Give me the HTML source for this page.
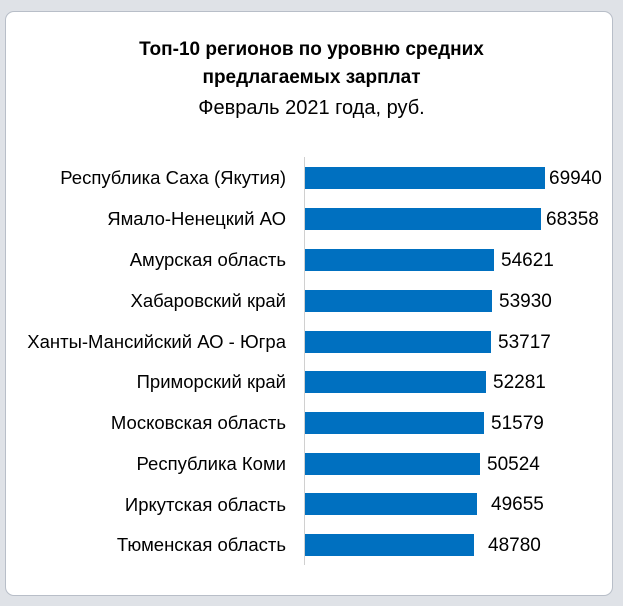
<!DOCTYPE html>
<html><head><meta charset="utf-8"><style>
body{margin:0;width:623px;height:606px;background:#dfe2e7;overflow:hidden;font-family:"Liberation Sans","DejaVu Sans",sans-serif;}
#p{position:absolute;left:5px;top:11px;width:606px;height:583px;background:#fff;border:1px solid #b8bec8;border-radius:9px;}
.t{position:absolute;left:0;width:623px;text-align:center;font-size:19px;color:#000;}
.l{position:absolute;right:337px;font-size:18.5px;white-space:nowrap;letter-spacing:0;}
.b{position:absolute;left:305px;height:22px;background:#0070c0;}
.v{position:absolute;font-size:19px;}
</style></head><body>
<div id="p"></div>
<div class="t" style="top:39px;font-weight:bold">Топ-10 регионов по уровню средних</div>
<div class="t" style="top:67px;font-weight:bold">предлагаемых зарплат</div>
<div class="t" style="top:97px;font-size:20px">Февраль 2021 года, руб.</div>
<div style="position:absolute;left:304px;top:157px;width:1px;height:408px;background:#d0d0d0"></div>
<div class="l" style="top:167px">Республика Саха (Якутия)</div>
<div class="b" style="top:167px;width:240px"></div><div class="v" style="left:549px;top:168px">69940</div>
<div class="l" style="top:208px">Ямало-Ненецкий АО</div>
<div class="b" style="top:208px;width:236px"></div><div class="v" style="left:546px;top:209px">68358</div>
<div class="l" style="top:249px">Амурская область</div>
<div class="b" style="top:249px;width:189px"></div><div class="v" style="left:501px;top:250px">54621</div>
<div class="l" style="top:290px">Хабаровский край</div>
<div class="b" style="top:290px;width:187px"></div><div class="v" style="left:499px;top:291px">53930</div>
<div class="l" style="top:331px">Ханты-Мансийский АО - Югра</div>
<div class="b" style="top:331px;width:186px"></div><div class="v" style="left:498px;top:332px">53717</div>
<div class="l" style="top:371px">Приморский край</div>
<div class="b" style="top:371px;width:181px"></div><div class="v" style="left:493px;top:372px">52281</div>
<div class="l" style="top:412px">Московская область</div>
<div class="b" style="top:412px;width:179px"></div><div class="v" style="left:491px;top:413px">51579</div>
<div class="l" style="top:453px">Республика Коми</div>
<div class="b" style="top:453px;width:175px"></div><div class="v" style="left:487px;top:454px">50524</div>
<div class="l" style="top:494px">Иркутская область</div>
<div class="b" style="top:493px;width:172px"></div><div class="v" style="left:491px;top:494px">49655</div>
<div class="l" style="top:534px">Тюменская область</div>
<div class="b" style="top:534px;width:169px"></div><div class="v" style="left:488px;top:535px">48780</div>
</body></html>
